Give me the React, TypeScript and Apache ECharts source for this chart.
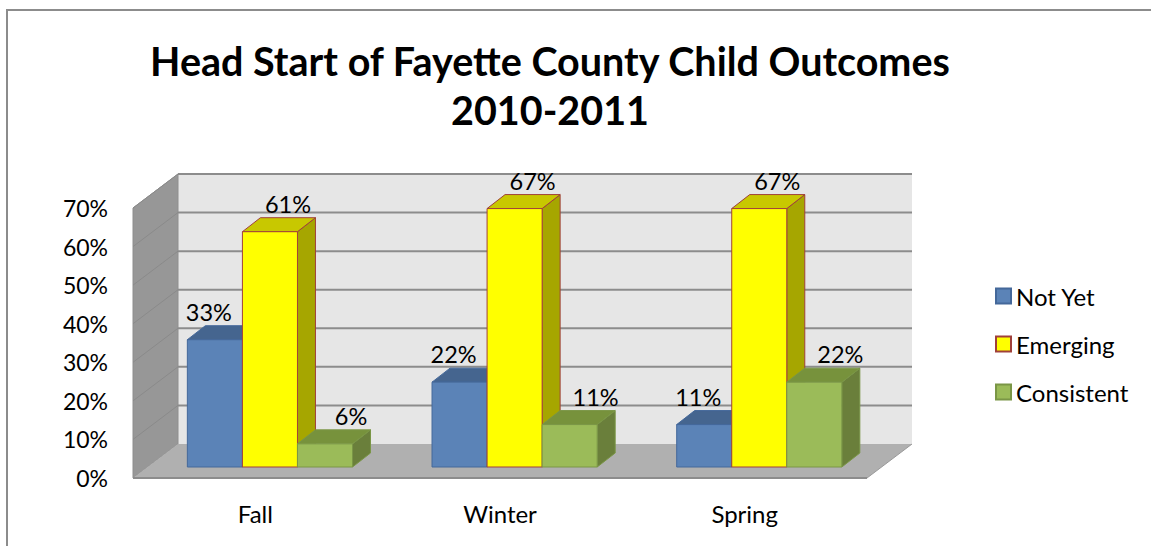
import React, { useEffect, useRef } from "react";
import * as echarts from "echarts";

const categories = ["Fall", "Winter", "Spring"];
const seriesNames = ["Not Yet", "Emerging", "Consistent"];
const notYet = [33, 22, 11];
const emerging = [61, 67, 67];
const consistent = [6, 11, 22];
const yTicks = [0, 10, 20, 30, 40, 50, 60, 70];

const FONT = "Lato, 'Open Sans', sans-serif";

// 3D geometry (styling constants)
const WALL_DX = 45;
const WALL_DY = -34;
const BAR_SHIFT_X = 14.6;
const BAR_SHIFT_Y = -11;
const BAR_DX = 18;
const BAR_DY = -14;
const BAR_FRAC = 0.225;

const styles = [
  { front: "#5b83b7", top: "#45658f", side: "#3f5c84", stroke: "#44689a", labelDx: -6 },
  { front: "#ffff00", top: "#c8c800", side: "#a6a600", stroke: "#a0403a", labelDx: 18 },
  { front: "#9bbb59", top: "#77923c", side: "#6a7f3b", stroke: "#7a9646", labelDx: 26 },
];

const seriesData = [notYet, emerging, consistent];

function wallsRender(params: any, api: any) {
  const cs = params.coordSys;
  const L = cs.x;
  const R = cs.x + cs.width;
  const T = cs.y;
  const B = cs.y + cs.height;
  const children: any[] = [];
  children.push({
    type: "polygon",
    shape: { points: [[L + WALL_DX, T + WALL_DY], [R + WALL_DX, T + WALL_DY], [R + WALL_DX, B + WALL_DY], [L + WALL_DX, B + WALL_DY]] },
    style: { fill: "#e6e6e6" },
  });
  children.push({
    type: "polygon",
    shape: { points: [[L, B], [L, T], [L + WALL_DX, T + WALL_DY], [L + WALL_DX, B + WALL_DY]] },
    style: { fill: "#979797", stroke: "#8e8e8e", lineWidth: 1 },
  });
  children.push({
    type: "polygon",
    shape: { points: [[L, B], [L + WALL_DX, B + WALL_DY], [R + WALL_DX, B + WALL_DY], [R, B]] },
    style: { fill: "#b0b0b0" },
  });
  children.push({
    type: "line",
    shape: { x1: L, y1: B, x2: R, y2: B },
    style: { stroke: "#8c8c8c", lineWidth: 2 },
  });
  children.push({
    type: "line",
    shape: { x1: R, y1: B, x2: R + WALL_DX, y2: B + WALL_DY },
    style: { stroke: "#9a9a9a", lineWidth: 1 },
  });
  yTicks.forEach((v) => {
    if (v === 0) return;
    const y = api.coord([0, v])[1];
    children.push({
      type: "line",
      shape: { x1: L + WALL_DX, y1: y + WALL_DY, x2: R + WALL_DX, y2: y + WALL_DY },
      style: { stroke: "#8c8c8c", lineWidth: 2 },
    });
    children.push({
      type: "line",
      shape: { x1: L, y1: y, x2: L + WALL_DX, y2: y + WALL_DY },
      style: { stroke: "#8a8a8a", lineWidth: 1 },
    });
  });
  return { type: "group", children };
}

function makeBarRender(slot: number) {
  const s = styles[slot];
  return (params: any, api: any) => {
    const cat = api.value(0);
    const val = api.value(1);
    const base = api.coord([cat, 0]);
    const top = api.coord([cat, val]);
    const cw = api.size([1, 0])[0];
    const w = cw * BAR_FRAC;
    const x = base[0] + (slot - 1.5) * w + BAR_SHIFT_X;
    const yb = base[1] + BAR_SHIFT_Y;
    const yt = top[1] + BAR_SHIFT_Y;
    return {
      type: "group",
      children: [
        {
          type: "polygon",
          shape: { points: [[x + w, yt], [x + w + BAR_DX, yt + BAR_DY], [x + w + BAR_DX, yb + BAR_DY], [x + w, yb]] },
          style: { fill: s.side, stroke: s.stroke, lineWidth: 1 },
        },
        {
          type: "polygon",
          shape: { points: [[x, yt], [x + BAR_DX, yt + BAR_DY], [x + w + BAR_DX, yt + BAR_DY], [x + w, yt]] },
          style: { fill: s.top, stroke: s.stroke, lineWidth: 1 },
        },
        {
          type: "rect",
          shape: { x, y: yt, width: w, height: yb - yt },
          style: { fill: s.front, stroke: s.stroke, lineWidth: 1 },
        },
        {
          type: "text",
          x: x + w / 2 + s.labelDx,
          y: yt - 28,
          z2: 100,
          style: {
            text: val + "%",
            fill: "#000",
            font: "23.5px " + FONT,
            align: "center",
            verticalAlign: "middle",
          },
        },
      ],
    };
  };
}

export default function App() {
  const ref = useRef<HTMLDivElement>(null);
  useEffect(() => {
    if (!ref.current) return;
    const chart = echarts.init(ref.current, undefined, { renderer: "svg" });
    const option: any = {
      animation: false,
      backgroundColor: "#ffffff",
      title: {
        text: "Head Start of Fayette County Child Outcomes\n2010-2011",
        left: 545,
        top: 31,
        textAlign: "center",
        textStyle: {
          fontFamily: FONT,
          fontWeight: "bold",
          fontSize: 39.5,
          lineHeight: 49,
          color: "#000",
        },
      },
      graphic: [
        {
          type: "rect",
          shape: { x: 7, y: 10, width: 1200, height: 600 },
          style: { fill: "none", stroke: "#8c8c8c", lineWidth: 2 },
          silent: true,
        },
      ],
      legend: {
        orient: "vertical",
        left: 995,
        top: 284,
        padding: 0,
        itemWidth: 15,
        itemHeight: 15,
        itemGap: 24,
        icon: "rect",
        textStyle: { fontFamily: FONT, fontSize: 24, color: "#000" },
        data: seriesNames.map((n, i) => ({
          name: n,
          itemStyle: { color: styles[i].front, borderColor: styles[i].stroke, borderWidth: 2 },
        })),
      },
      grid: { left: 133, top: 208, width: 734, height: 270, containLabel: false },
      xAxis: {
        type: "category",
        data: categories,
        axisLine: { show: false },
        axisTick: { show: false },
        axisLabel: { fontFamily: FONT, fontSize: 24, color: "#000", margin: 23 },
      },
      yAxis: {
        type: "value",
        min: 0,
        max: 70,
        interval: 10,
        splitLine: { show: false },
        axisLine: { show: false },
        axisTick: { show: false },
        axisLabel: {
          fontFamily: FONT,
          fontSize: 23,
          color: "#000",
          margin: 25,
          formatter: (v: number) => v + "%",
          padding: [4, 0, 0, 0],
        },
      },
      series: [
        {
          type: "custom",
          name: "walls",
          renderItem: wallsRender,
          data: [[0, 0]],
          silent: true,
          z: 1,
        },
        ...seriesNames.map((n, i) => ({
          type: "custom",
          name: n,
          renderItem: makeBarRender(i),
          data: seriesData[i].map((v, c) => [c, v]),
          itemStyle: { color: styles[i].front, borderColor: styles[i].stroke },
          z: 2 + i,
        })),
      ],
    };
    chart.setOption(option);
    return () => chart.dispose();
  }, []);
  return (
    <div
      ref={ref}
      style={{ position: "fixed", left: 0, top: 0, width: 1151, height: 546, background: "#fff" }}
    />
  );
}
